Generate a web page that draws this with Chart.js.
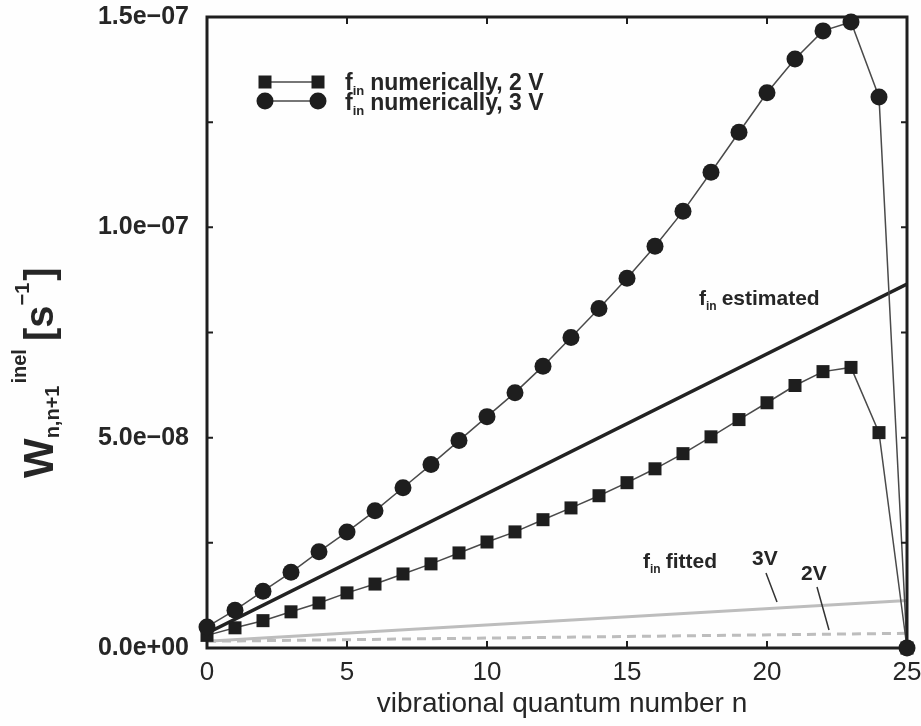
<!DOCTYPE html>
<html>
<head>
<meta charset="utf-8">
<script src="https://cdn.jsdelivr.net/npm/chart.js@4.4.1/dist/chart.umd.min.js"></script>
<style>
  html, body { margin: 0; padding: 0; background: #fefefe; }
</style>
</head>
<body>
<canvas id="chart" width="921" height="726"></canvas>
<script>
// vibrational quantum number n
const quantumN = [0, 1, 2, 3, 4, 5, 6, 7, 8, 9, 10, 11, 12, 13, 14, 15, 16, 17, 18, 19, 20, 21, 22, 23, 24, 25];
// W_{n,n+1}^inel in units of 1e-9 s^-1
const numeric2V = [3.0, 4.8, 6.5, 8.6, 10.7, 13.1, 15.2, 17.6, 20.0, 22.6, 25.2, 27.6, 30.5, 33.3, 36.2, 39.3, 42.6, 46.2, 50.2, 54.3, 58.3, 62.4, 65.7, 66.7, 51.2, 0];
const numeric3V = [5.0, 9.0, 13.5, 18.0, 22.9, 27.6, 32.6, 38.1, 43.6, 49.3, 55.0, 60.7, 67.0, 73.8, 80.7, 87.9, 95.5, 103.8, 113.1, 122.6, 132.0, 140.0, 146.7, 148.8, 131.0, 0];
const lineN = [0, 25];
const estimated = [3.5, 86.5];
const fitted3V = [1.6, 11.3];
const fitted2V = [1.6, 3.5];
const yTickLabels = ["0.0e+00", "5.0e\u221208", "1.0e\u221207", "1.5e\u221207"];

const SCALE = 1e-9;
const FONT = '"Liberation Sans", Arial, Helvetica, sans-serif';
const INK = "#262626";

function pts(xs, ys) {
  return xs.map((x, i) => ({ x: x, y: ys[i] * SCALE }));
}

function richText(ctx, parts, x, y) {
  let cx = x;
  for (const p of parts) {
    ctx.font = (p.w || "bold") + " " + p.s + "px " + FONT;
    ctx.fillText(p.t, cx, y + (p.dy || 0));
    cx += ctx.measureText(p.t).width + (p.gap || 0);
  }
  return cx;
}

const decorPlugin = {
  id: "decor",
  beforeDraw(chart) {
    const ctx = chart.ctx;
    ctx.save();
    ctx.fillStyle = "#fefefe";
    ctx.fillRect(0, 0, chart.width, chart.height);
    ctx.restore();
  },
  afterDraw(chart) {
    const ctx = chart.ctx;
    const a = chart.chartArea;
    const xs = chart.scales.x, ys = chart.scales.y;
    ctx.save();

    // frame
    ctx.strokeStyle = "#1e1e1e";
    ctx.lineWidth = 3;
    ctx.strokeRect(a.left, a.top, a.right - a.left, a.bottom - a.top);

    // inward tick marks
    ctx.lineWidth = 2;
    ctx.beginPath();
    xs.ticks.forEach(t => {
      const px = xs.getPixelForValue(t.value);
      ctx.moveTo(px, a.bottom); ctx.lineTo(px, a.bottom - 7);
      ctx.moveTo(px, a.top); ctx.lineTo(px, a.top + 7);
    });
    ys.ticks.forEach(t => {
      const py = ys.getPixelForValue(t.value);
      ctx.moveTo(a.left, py); ctx.lineTo(a.left + 6, py);
      ctx.moveTo(a.right, py); ctx.lineTo(a.right - 6, py);
    });
    ctx.stroke();

    ctx.fillStyle = INK;
    ctx.textBaseline = "alphabetic";

    // x axis title
    ctx.font = "28px " + FONT;
    ctx.textAlign = "center";
    ctx.fillText("vibrational quantum number n", 562, 712);
    ctx.textAlign = "left";

    // y axis title (rotated)
    ctx.save();
    ctx.translate(53, 478);
    ctx.rotate(-Math.PI / 2);
    richText(ctx, [
      { t: "W", s: 42 },
      { t: "n,n+1", s: 20, dy: 6, gap: 2 },
      { t: "inel", s: 20, dy: -27, gap: 8 },
      { t: "[s", s: 40 },
      { t: "\u22121", s: 20, dy: -24, gap: 2 },
      { t: "]", s: 40 }
    ], 0, 0);
    ctx.restore();

    // legend
    const lx1 = 265, lx2 = 318;
    ctx.strokeStyle = "#4a4a4a";
    ctx.lineWidth = 1.5;
    ctx.beginPath();
    ctx.moveTo(lx1, 82); ctx.lineTo(lx2, 82);
    ctx.moveTo(lx1, 101); ctx.lineTo(lx2, 101);
    ctx.stroke();
    ctx.fillStyle = "#1e1e1e";
    [lx1, lx2].forEach(x => {
      ctx.fillRect(x - 6.5, 82 - 6.5, 13, 13);
      ctx.beginPath();
      ctx.arc(x, 101, 8.5, 0, Math.PI * 2);
      ctx.fill();
    });
    ctx.fillStyle = INK;
    richText(ctx, [{ t: "f", s: 23 }, { t: "in", s: 13, dy: 5, gap: 6 }, { t: "numerically, 2 V", s: 23 }], 345, 90);
    richText(ctx, [{ t: "f", s: 23 }, { t: "in", s: 13, dy: 5, gap: 6 }, { t: "numerically, 3 V", s: 23 }], 345, 110);

    // annotations
    richText(ctx, [{ t: "f", s: 21 }, { t: "in", s: 12, dy: 5, gap: 5 }, { t: "estimated", s: 21 }], 699, 305);
    richText(ctx, [{ t: "f", s: 21 }, { t: "in", s: 12, dy: 5, gap: 5 }, { t: "fitted", s: 21 }], 643, 568);
    richText(ctx, [{ t: "3V", s: 21 }], 752, 565);
    richText(ctx, [{ t: "2V", s: 21 }], 801, 580);
    ctx.strokeStyle = "#333";
    ctx.lineWidth = 1.5;
    ctx.beginPath();
    ctx.moveTo(766, 573); ctx.lineTo(777, 602);
    ctx.moveTo(817, 587); ctx.lineTo(829, 630);
    ctx.stroke();

    ctx.restore();
  }
};

new Chart(document.getElementById("chart"), {
  type: "line",
  data: {
    datasets: [
      {
        label: "f_in numerically, 3 V",
        data: pts(quantumN, numeric3V),
        borderColor: "#4a4a4a",
        borderWidth: 1.5,
        pointStyle: "circle",
        pointRadius: 8.5,
        pointBackgroundColor: "#1e1e1e",
        pointBorderWidth: 0,
        clip: false,
        order: 0
      },
      {
        label: "f_in numerically, 2 V",
        data: pts(quantumN, numeric2V),
        borderColor: "#4a4a4a",
        borderWidth: 1.5,
        pointStyle: "rect",
        pointRadius: 9.2,
        pointBackgroundColor: "#1e1e1e",
        pointBorderWidth: 0,
        clip: false,
        order: 1
      },
      {
        label: "f_in estimated",
        data: pts(lineN, estimated),
        borderColor: "#222",
        borderWidth: 3.5,
        pointRadius: 0,
        order: 2
      },
      {
        label: "f_in fitted 3V",
        data: pts(lineN, fitted3V),
        borderColor: "#bdbdbd",
        borderWidth: 3,
        pointRadius: 0,
        order: 3
      },
      {
        label: "f_in fitted 2V",
        data: pts(lineN, fitted2V),
        borderColor: "#bdbdbd",
        borderWidth: 3,
        borderDash: [9, 6],
        pointRadius: 0,
        order: 4
      }
    ]
  },
  options: {
    responsive: false,
    animation: false,
    layout: { padding: { left: 0, right: 14, top: 17, bottom: 0 } },
    plugins: { legend: { display: false }, tooltip: { enabled: false } },
    elements: { line: { tension: 0 } },
    scales: {
      x: {
        type: "linear",
        min: 0,
        max: 25,
        grid: { display: false },
        border: { display: false },
        ticks: {
          stepSize: 5,
          color: INK,
          padding: 1,
          maxRotation: 0,
          autoSkip: false,
          font: { family: FONT, size: 26 },
          callback: v => String(v)
        },
        afterFit: s => {
          s.height = 78;
          s.paddingLeft = 0; s.paddingRight = 0;
        }
      },
      y: {
        type: "linear",
        min: 0,
        max: 1.5e-7,
        grid: { display: false },
        border: { display: false },
        ticks: {
          stepSize: 2.5e-8,
          color: INK,
          padding: 10,
          autoSkip: false,
          font: { family: FONT, size: 25, weight: "bold" },
          callback: (v, i) => (i % 2 === 0 ? yTickLabels[i / 2] : "")
        },
        afterFit: s => {
          s.width = 207;
          s.paddingTop = 0; s.paddingBottom = 0;
        }
      }
    }
  },
  plugins: [decorPlugin]
});
</script>
</body>
</html>
